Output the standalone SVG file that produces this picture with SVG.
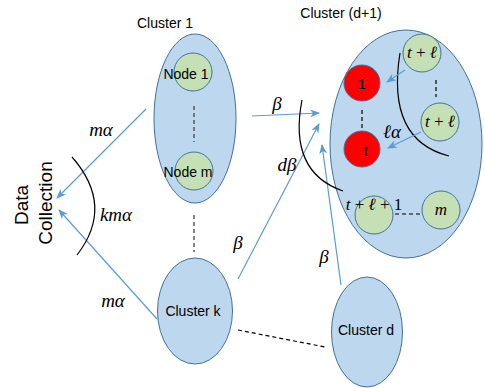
<svg xmlns="http://www.w3.org/2000/svg" width="484" height="388" viewBox="0 0 484 388">
<defs>
<style>
.cl{fill:#BDD7EE;stroke:#41719C;stroke-width:1}
.gr{fill:#C5E0B4;stroke:#41719C;stroke-width:1}
.rd{fill:#FF0000;stroke:#41719C;stroke-width:1}
.t{font-family:"Liberation Sans",Arial,sans-serif;font-size:14px;fill:#000}
.m{font-family:"Liberation Serif","DejaVu Serif",serif;font-style:italic;font-size:19px;fill:#000}
.s{font-size:17px}
.u{font-style:normal}
.ar{stroke:#5B9BD5;stroke-width:1.2;fill:none;marker-end:url(#ah)}
.dk{stroke:#000;stroke-width:1.2;fill:none;stroke-dasharray:4 3}
.dg{stroke:#595959;stroke-width:1.5;fill:none;stroke-dasharray:4 3}
.arc{stroke:#000;stroke-width:1.2;fill:none}
</style>
<marker id="ah" markerWidth="10" markerHeight="8" refX="9" refY="4" orient="auto" markerUnits="userSpaceOnUse">
<path d="M0,0 L10,4 L0,8 L3,4 Z" fill="#5B9BD5"/>
</marker>
</defs>
<rect width="484" height="388" fill="#fff"/>

<g id="data-collection">
<text class="t" style="font-size:19px" text-anchor="middle" transform="translate(28,205) rotate(-90)">Data</text>
<text class="t" style="font-size:19px" text-anchor="middle" transform="translate(52,203) rotate(-90)">Collection</text>
</g>

<g id="cluster1">
<text class="t" x="165" y="28" text-anchor="middle">Cluster 1</text>
<ellipse class="cl" cx="195" cy="118.5" rx="41" ry="84.5"/>
<path class="dg" d="M194,106 V142"/>
</g>
<g id="node1">
<circle class="gr" cx="193" cy="72" r="19"/>
<text class="t" x="186" y="79" text-anchor="middle">Node 1</text>
</g>
<g id="nodem">
<circle class="gr" cx="194" cy="171" r="19"/>
<text class="t" x="188" y="177" text-anchor="middle">Node m</text>
</g>

<g id="clusterk">
<ellipse class="cl" cx="195" cy="311" rx="37.5" ry="53"/>
<text class="t" x="193" y="316" text-anchor="middle">Cluster k</text>
</g>

<g id="clusterd">
<ellipse class="cl" cx="367" cy="332" rx="35.5" ry="55"/>
<text class="t" x="366" y="335" text-anchor="middle">Cluster d</text>
</g>

<g id="clusterd1">
<text class="t" x="341" y="18" text-anchor="middle">Cluster (d+1)</text>
<ellipse class="cl" cx="406" cy="144" rx="76" ry="114"/>
<path class="dk" d="M362,110 V128"/>
<path class="dk" d="M436,80 V97"/>
<path class="dk" d="M395,214 H420"/>
<path class="arc" d="M400,53 Q386,140 449,156"/>
</g>
<g id="red1">
<circle class="rd" cx="362" cy="83" r="18"/>
<text class="t" x="362" y="89" text-anchor="middle">1</text>
</g>
<g id="redt">
<circle class="rd" cx="362" cy="149" r="18"/>
<text class="t" x="366" y="156" text-anchor="middle">t</text>
</g>
<g id="green-tl1">
<circle class="gr" cx="422" cy="53" r="19"/>
<text class="m s" x="422" y="58" text-anchor="middle">t <tspan class="u">+</tspan> ℓ</text>
</g>
<g id="green-tl2">
<circle class="gr" cx="440" cy="122" r="19"/>
<text class="m s" x="440" y="127" text-anchor="middle">t <tspan class="u">+</tspan> ℓ</text>
</g>
<g id="green-tl1p">
<circle class="gr" cx="374" cy="215" r="19"/>
<text class="m s" x="374" y="210" text-anchor="middle">t <tspan class="u">+</tspan> ℓ <tspan class="u">+ 1</tspan></text>
</g>
<g id="green-m">
<circle class="gr" cx="441" cy="210" r="19"/>
<text class="m s" x="441" y="215" text-anchor="middle">m</text>
</g>

<g id="connectors">
<path class="ar" d="M146,109 L57,198"/>
<path class="ar" d="M157,319 L59,210"/>
<path class="arc" d="M72,157 Q115,206 77,255"/>
<path class="dg" d="M194,215 V252"/>
<path class="dk" d="M238,330 L325,347"/>
<path class="ar" d="M252,116 L319,113"/>
<path class="ar" d="M238,279 L319,124"/>
<path class="ar" d="M341,285 L322,145"/>
<path class="arc" d="M302,100 Q288,172 343,191"/>
<path class="ar" d="M405,70 L387,82"/>
<path class="ar" d="M421,132 L388,148"/>
<text class="m" x="101" y="136" text-anchor="middle">mα</text>
<text class="m" x="113" y="307" text-anchor="middle">mα</text>
<text class="m" x="116" y="221" text-anchor="middle">kmα</text>
<text class="m" x="277" y="110" text-anchor="middle">β</text>
<text class="m" x="287" y="171" text-anchor="middle">dβ</text>
<text class="m" x="238" y="249" text-anchor="middle">β</text>
<text class="m" x="324" y="263" text-anchor="middle">β</text>
<text class="m" x="392" y="138" text-anchor="middle">ℓα</text>
</g>
</svg>
